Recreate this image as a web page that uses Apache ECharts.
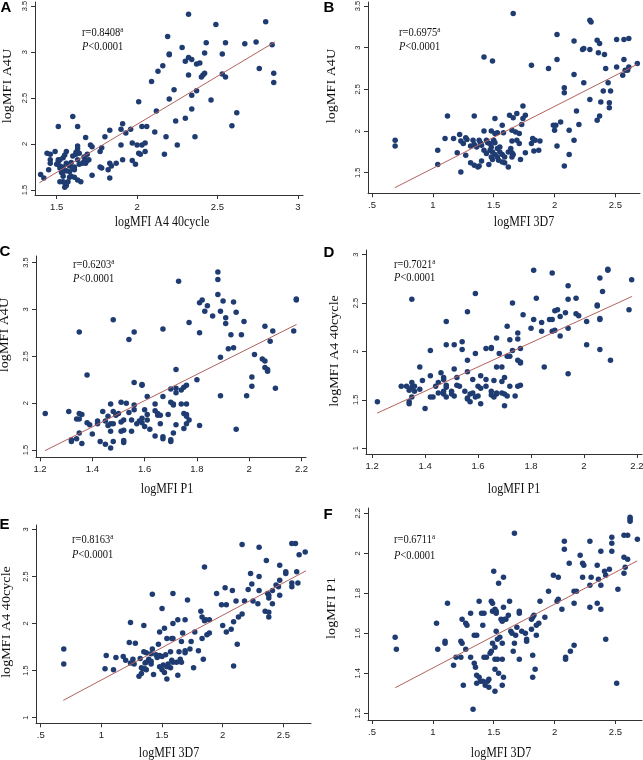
<!DOCTYPE html>
<html>
<head>
<meta charset="utf-8">
<script src="https://cdn.jsdelivr.net/npm/echarts@6/dist/echarts.min.js"></script>
<style>
  html, body { margin: 0; padding: 0; background: #fff; }
  #main { width: 643px; height: 760px; }
</style>
</head>
<body>
<div id="main"></div>
<script>
// A: logMFI A4 40cycle (x) vs logMFI A4U (y)
var pointsA = [[2.32,3.41],[2.80,3.33],[2.49,3.30],[2.19,3.17],[2.28,3.05],[2.20,2.98],[2.20,2.97],[2.32,2.94],[2.34,2.92],[2.30,2.90],[2.43,3.10],[2.55,3.10],[2.67,3.09],[2.74,3.11],[2.84,3.08],[2.42,2.99],[2.53,2.98],[2.16,2.85],[2.13,2.79],[2.09,2.68],[2.39,2.88],[2.37,2.87],[2.32,2.75],[2.40,2.73],[2.42,2.77],[2.41,2.75],[2.53,2.76],[2.55,2.73],[2.76,2.82],[2.85,2.77],[2.85,2.67],[2.23,2.59],[2.37,2.58],[2.34,2.53],[2.20,2.49],[2.46,2.48],[2.01,2.46],[2.34,2.38],[2.12,2.36],[2.62,2.34],[2.30,2.28],[2.24,2.25],[2.59,2.20],[1.91,2.22],[1.60,2.30],[1.51,2.19],[1.63,2.19],[1.96,2.16],[1.83,2.15],[2.03,2.19],[2.06,2.19],[1.90,2.16],[1.93,2.12],[2.11,2.13],[1.80,2.08],[1.68,2.07],[2.18,2.08],[2.36,2.08],[2.25,1.99],[1.97,2.01],[1.90,1.99],[2.00,1.99],[2.03,1.99],[2.05,2.01],[1.63,1.98],[1.63,1.95],[1.71,1.99],[1.72,1.97],[1.78,1.96],[2.01,1.90],[2.02,1.89],[2.05,1.92],[2.17,1.89],[1.62,1.91],[1.62,1.89],[1.64,1.90],[1.77,1.92],[1.69,1.89],[1.67,1.86],[1.68,1.83],[1.60,1.87],[1.56,1.92],[1.55,1.88],[1.54,1.85],[1.44,1.90],[1.46,1.89],[1.49,1.92],[1.46,1.83],[1.46,1.79],[1.51,1.83],[1.51,1.81],[1.52,1.83],[1.50,1.78],[1.52,1.76],[1.52,1.74],[1.54,1.75],[1.56,1.79],[1.58,1.76],[1.59,1.80],[1.61,1.72],[1.60,1.74],[1.63,1.83],[1.64,1.78],[1.66,1.79],[1.67,1.81],[1.68,1.79],[1.69,1.82],[1.70,1.83],[1.91,1.83],[1.97,1.82],[1.99,1.78],[1.87,1.79],[1.83,1.79],[1.84,1.76],[1.77,1.75],[1.78,1.74],[1.82,1.72],[1.72,1.66],[1.45,1.72],[1.40,1.67],[1.42,1.63],[1.53,1.69],[1.54,1.70],[1.56,1.71],[1.58,1.70],[1.54,1.65],[1.59,1.65],[1.61,1.64],[1.52,1.59],[1.54,1.59],[1.55,1.58],[1.56,1.55],[1.55,1.53],[1.57,1.59],[1.63,1.61],[1.65,1.59],[1.83,1.63],[1.58,1.64],[1.61,1.75]];
var fitA = [[1.392, 1.579], [2.856, 3.109]];
var ticksAx = [1.5, 2, 2.5, 3];
var ticksAy = [1.5, 2, 2.5, 3, 3.5];

// B: logMFI 3D7 vs logMFI A4U
var pointsB = [[1.66,3.41],[2.29,3.33],[2.30,3.31],[1.42,2.89],[1.49,2.84],[2.02,3.16],[2.16,3.08],[2.35,3.09],[2.37,3.05],[2.23,2.98],[2.24,2.99],[2.29,2.98],[2.36,2.94],[2.41,2.92],[2.51,3.10],[2.57,3.10],[2.61,3.11],[2.02,2.86],[2.57,2.86],[1.81,2.79],[2.68,2.81],[2.51,2.77],[2.61,2.77],[2.60,2.73],[2.58,2.73],[2.56,2.67],[1.95,2.75],[2.42,2.75],[2.16,2.68],[2.08,2.52],[2.08,2.46],[2.24,2.58],[2.44,2.58],[2.40,2.48],[2.46,2.48],[2.29,2.38],[2.38,2.35],[2.45,2.34],[2.45,2.28],[2.18,2.24],[1.74,2.30],[1.74,2.15],[1.76,2.19],[1.63,2.19],[1.66,2.16],[1.12,2.18],[1.34,2.18],[1.51,2.15],[1.69,2.21],[2.05,2.11],[2.01,2.07],[1.99,2.07],[2.00,2.01],[2.20,2.08],[2.37,2.18],[2.35,2.13],[2.12,2.01],[2.16,1.89],[2.02,1.82],[2.12,1.72],[2.08,1.58],[1.57,2.07],[1.73,2.08],[1.65,2.01],[1.42,2.00],[1.48,2.00],[1.51,1.97],[1.53,1.98],[1.58,1.98],[1.68,1.99],[1.71,1.97],[1.22,1.96],[1.10,1.91],[1.17,1.91],[1.27,1.92],[1.28,1.90],[1.23,1.88],[1.25,1.85],[1.33,1.89],[1.34,1.84],[1.38,1.89],[1.39,1.86],[1.31,1.82],[1.36,1.81],[1.40,1.83],[1.44,1.89],[1.45,1.86],[1.47,1.85],[1.48,1.81],[1.47,1.77],[1.49,1.75],[1.50,1.89],[1.51,1.86],[1.53,1.79],[1.55,1.81],[1.55,1.75],[1.51,1.72],[1.53,1.69],[1.57,1.72],[1.59,1.69],[1.48,1.69],[1.49,1.66],[1.54,1.65],[1.57,1.63],[1.59,1.62],[1.62,1.57],[1.62,1.75],[1.64,1.79],[1.65,1.74],[1.66,1.72],[1.65,1.69],[1.69,1.89],[1.71,1.85],[1.65,1.88],[1.72,1.66],[1.76,1.74],[1.81,1.85],[1.82,1.91],[1.84,1.89],[1.88,1.88],[1.83,1.76],[1.87,1.77],[1.04,1.77],[1.04,1.60],[1.20,1.74],[1.27,1.71],[1.31,1.62],[1.34,1.59],[1.37,1.57],[1.38,1.58],[1.40,1.64],[1.23,1.51],[1.46,1.60],[0.69,1.89],[0.69,1.82],[1.42,1.77],[1.44,1.73]];
var fitB = [[0.687, 1.32], [2.678, 2.80]];
var ticksBx = [0.5, 1, 1.5, 2, 2.5];
var ticksBy = [1.5, 2, 2.5, 3, 3.5];

// C: logMFI P1 vs logMFI A4U
var pointsC = [[1.88,3.40],[1.88,3.32],[1.73,3.30],[1.88,3.16],[1.90,3.09],[1.94,3.08],[1.81,3.07],[1.82,3.10],[1.84,3.04],[1.83,2.98],[1.89,2.98],[1.95,2.97],[1.86,2.93],[1.91,2.91],[1.91,2.85],[2.18,3.11],[2.18,3.10],[1.77,2.86],[1.98,2.87],[1.48,2.89],[1.81,2.75],[1.67,2.79],[1.35,2.76],[1.56,2.76],[1.54,2.68],[1.93,2.73],[1.97,2.73],[2.06,2.82],[2.09,2.77],[2.17,2.77],[2.08,2.66],[1.92,2.58],[1.94,2.59],[2.02,2.52],[1.89,2.49],[2.05,2.47],[2.06,2.45],[2.06,2.38],[2.07,2.36],[2.07,2.34],[1.72,2.36],[1.38,2.30],[2.01,2.28],[1.80,2.25],[1.56,2.22],[1.59,2.19],[1.59,2.20],[1.76,2.19],[1.75,2.17],[1.70,2.15],[1.72,2.16],[1.72,2.11],[2.01,2.18],[2.10,2.16],[1.74,2.14],[1.61,2.07],[1.67,2.07],[1.89,2.08],[1.99,2.08],[1.47,1.99],[1.51,2.01],[1.53,2.00],[1.56,1.98],[1.64,1.99],[1.70,2.01],[1.71,1.99],[1.71,1.98],[1.74,1.99],[1.76,1.99],[1.22,1.89],[1.31,1.91],[1.35,1.89],[1.35,1.83],[1.36,1.88],[1.34,1.83],[1.38,1.79],[1.39,1.77],[1.42,1.81],[1.42,1.78],[1.44,1.91],[1.45,1.81],[1.46,1.86],[1.46,1.76],[1.47,1.78],[1.48,1.78],[1.48,1.91],[1.49,1.87],[1.50,1.89],[1.51,1.80],[1.52,1.82],[1.54,1.90],[1.56,1.93],[1.55,1.82],[1.57,1.78],[1.58,1.81],[1.59,1.84],[1.59,1.79],[1.60,1.75],[1.61,1.88],[1.61,1.82],[1.62,1.72],[1.64,1.92],[1.65,1.89],[1.65,1.87],[1.66,1.87],[1.66,1.78],[1.60,1.93],[1.55,1.70],[1.52,1.71],[1.51,1.70],[1.69,1.88],[1.75,1.89],[1.76,1.88],[1.76,1.86],[1.77,1.82],[1.76,1.78],[1.75,1.73],[1.72,1.77],[1.71,1.68],[1.40,1.67],[1.35,1.68],[1.34,1.62],[1.32,1.61],[1.32,1.59],[1.36,1.57],[1.43,1.59],[1.45,1.56],[1.47,1.52],[1.48,1.59],[1.52,1.60],[1.52,1.58],[1.64,1.65],[1.67,1.64],[1.67,1.62],[1.70,1.61],[1.70,1.59],[1.81,1.76],[1.95,1.72],[1.47,1.70]];
var fitC = [[1.219, 1.493], [2.181, 2.84]];
var ticksCx = [1.2, 1.4, 1.6, 1.8, 2, 2.2];
var ticksCy = [1.5, 2, 2.5, 3, 3.5];

// D: logMFI P1 vs logMFI A4 40cycle
var pointsD = [[1.81,2.84],[1.88,2.81],[2.09,2.85],[2.09,2.84],[2.06,2.76],[2.18,2.74],[1.94,2.68],[2.07,2.62],[1.59,2.60],[1.82,2.55],[1.97,2.55],[1.94,2.54],[1.35,2.54],[1.73,2.50],[2.05,2.47],[2.05,2.48],[2.17,2.43],[1.89,2.42],[1.90,2.43],[1.93,2.40],[1.91,2.36],[1.97,2.39],[1.98,2.37],[1.56,2.41],[1.77,2.38],[1.81,2.33],[1.87,2.33],[1.88,2.33],[2.06,2.34],[2.06,2.33],[2.01,2.31],[1.84,2.30],[1.48,2.31],[1.94,2.24],[1.80,2.24],[1.84,2.21],[1.88,2.21],[1.89,2.22],[1.75,2.19],[1.71,2.26],[1.91,2.16],[1.67,2.14],[1.72,2.12],[1.75,2.13],[1.54,2.10],[1.48,2.07],[1.51,2.07],[2.01,2.07],[1.63,2.03],[1.65,2.03],[1.65,2.04],[1.76,2.03],[1.42,2.01],[1.54,2.02],[2.06,2.02],[1.59,1.98],[1.68,1.98],[1.73,2.01],[1.71,1.95],[1.72,1.95],[1.56,1.91],[1.75,1.91],[1.76,1.88],[1.76,1.89],[2.10,1.91],[1.38,1.84],[1.67,1.84],[1.69,1.84],[1.85,1.84],[1.51,1.82],[1.56,1.79],[1.46,1.78],[1.42,1.75],[1.47,1.73],[1.47,1.71],[1.52,1.73],[1.61,1.75],[1.63,1.71],[1.39,1.70],[1.58,1.71],[1.66,1.70],[1.70,1.73],[1.69,1.69],[1.94,1.77],[1.35,1.68],[1.31,1.64],[1.33,1.64],[1.34,1.60],[1.35,1.63],[1.36,1.64],[1.38,1.61],[1.36,1.59],[1.35,1.53],[1.34,1.48],[1.34,1.46],[1.44,1.64],[1.45,1.68],[1.48,1.65],[1.48,1.63],[1.47,1.59],[1.47,1.56],[1.48,1.53],[1.45,1.57],[1.42,1.53],[1.43,1.53],[1.50,1.59],[1.50,1.56],[1.51,1.54],[1.52,1.65],[1.53,1.64],[1.55,1.59],[1.56,1.52],[1.56,1.51],[1.57,1.56],[1.58,1.57],[1.59,1.53],[1.60,1.54],[1.60,1.64],[1.61,1.62],[1.57,1.48],[1.61,1.46],[1.63,1.64],[1.65,1.59],[1.65,1.55],[1.66,1.53],[1.67,1.57],[1.67,1.56],[1.69,1.57],[1.70,1.56],[1.71,1.54],[1.70,1.44],[1.72,1.64],[1.75,1.64],[1.76,1.65],[1.74,1.54],[1.40,1.41],[1.22,1.48]];
var fitD = [[1.219, 1.363], [2.181, 2.568]];
var ticksDx = [1.2, 1.4, 1.6, 1.8, 2, 2.2];
var ticksDy = [1, 1.5, 2, 2.5, 3];

// E: logMFI 3D7 vs logMFI A4 40cycle
var pointsE = [[2.16,2.84],[2.30,2.81],[2.57,2.85],[2.60,2.85],[2.68,2.76],[2.63,2.73],[1.85,2.60],[2.36,2.67],[2.47,2.62],[2.61,2.55],[2.52,2.55],[2.52,2.53],[2.23,2.53],[2.30,2.50],[2.47,2.46],[2.24,2.42],[2.44,2.41],[2.46,2.39],[2.57,2.43],[2.57,2.39],[2.62,2.43],[2.21,2.36],[2.30,2.35],[2.02,2.38],[2.08,2.35],[1.95,2.32],[2.37,2.32],[2.38,2.30],[2.38,2.27],[2.41,2.35],[2.47,2.30],[2.11,2.24],[2.18,2.24],[2.25,2.24],[2.29,2.21],[2.41,2.21],[1.42,2.31],[1.59,2.32],[1.71,2.25],[1.99,2.20],[2.03,2.20],[2.16,2.10],[2.35,2.13],[2.38,2.12],[2.38,2.07],[1.82,2.13],[1.83,2.07],[1.85,2.03],[1.86,2.04],[1.89,2.04],[2.13,2.07],[2.09,2.02],[1.50,2.16],[1.24,2.01],[1.35,1.98],[1.52,1.95],[1.59,2.00],[1.63,2.04],[1.69,2.04],[1.48,1.91],[1.67,1.90],[2.00,1.98],[2.03,1.91],[2.07,1.94],[1.77,1.91],[1.87,1.88],[1.89,1.90],[1.54,1.84],[1.58,1.84],[1.59,1.84],[1.83,1.84],[1.47,1.78],[1.66,1.81],[1.74,1.81],[1.23,1.80],[1.28,1.79],[2.12,1.78],[1.42,1.73],[1.73,1.73],[1.80,1.71],[1.35,1.70],[1.37,1.69],[1.41,1.68],[1.45,1.67],[1.46,1.64],[1.48,1.66],[1.50,1.65],[1.53,1.67],[1.57,1.70],[1.64,1.70],[1.69,1.71],[1.69,1.69],[1.84,1.62],[1.04,1.66],[1.12,1.64],[1.18,1.65],[1.20,1.61],[1.26,1.62],[1.32,1.63],[1.39,1.62],[1.41,1.60],[1.36,1.58],[1.37,1.59],[1.58,1.61],[1.59,1.59],[1.65,1.62],[1.66,1.59],[1.62,1.59],[1.24,1.58],[1.27,1.57],[1.33,1.53],[1.34,1.52],[1.36,1.52],[1.37,1.51],[1.41,1.57],[1.48,1.54],[1.50,1.51],[1.51,1.56],[1.54,1.54],[1.55,1.57],[1.57,1.53],[1.76,1.53],[0.69,1.73],[0.69,1.57],[1.03,1.52],[1.10,1.51],[1.31,1.44],[1.33,1.47],[1.43,1.46],[1.52,1.48],[1.54,1.41],[1.63,1.45],[2.09,1.55]];
var fitE = [[0.686, 1.185], [2.687, 2.56]];
var ticksEx = [0.5, 1, 1.5, 2, 2.5];
var ticksEy = [1, 1.5, 2, 2.5, 3];

// F: logMFI 3D7 vs logMFI P1
var pointsF = [[2.62,2.18],[2.62,2.17],[2.62,2.16],[1.67,2.10],[2.57,2.09],[2.60,2.09],[2.47,2.08],[2.47,2.05],[2.68,2.07],[2.08,2.06],[2.29,2.06],[2.08,2.02],[2.47,2.01],[2.38,2.01],[2.21,1.99],[2.57,1.98],[2.60,1.97],[2.12,1.95],[2.23,1.95],[2.24,1.94],[2.35,1.94],[2.45,1.92],[2.41,1.91],[2.58,1.93],[2.57,1.90],[1.50,1.91],[2.42,1.89],[1.99,1.89],[2.03,1.88],[1.58,1.88],[2.23,1.88],[2.30,1.88],[2.36,1.87],[2.38,1.84],[1.54,1.85],[2.29,1.84],[1.95,1.81],[2.52,1.82],[2.16,1.81],[2.18,1.81],[2.03,1.77],[2.02,1.76],[1.12,1.75],[1.38,1.76],[1.48,1.76],[1.49,1.75],[1.63,1.76],[1.88,1.76],[2.16,1.75],[2.35,1.75],[1.58,1.73],[2.29,1.73],[2.38,1.72],[2.06,1.72],[1.51,1.72],[1.52,1.71],[1.49,1.71],[1.52,1.70],[1.31,1.70],[1.40,1.70],[1.42,1.70],[1.71,1.70],[1.71,1.71],[1.62,1.69],[1.83,1.69],[1.82,1.68],[1.92,1.68],[1.56,1.67],[1.59,1.67],[1.60,1.67],[1.81,1.67],[1.24,1.67],[1.03,1.65],[1.27,1.65],[1.28,1.64],[1.57,1.66],[1.87,1.65],[1.85,1.64],[1.69,1.63],[1.41,1.64],[1.52,1.61],[1.64,1.61],[1.65,1.60],[1.73,1.61],[1.76,1.60],[1.81,1.62],[1.77,1.56],[1.77,1.57],[1.85,1.59],[1.68,1.59],[0.69,1.58],[1.34,1.59],[1.36,1.59],[1.53,1.57],[1.55,1.58],[1.49,1.55],[1.57,1.55],[1.10,1.56],[1.10,1.55],[1.23,1.56],[1.24,1.55],[1.67,1.55],[2.42,1.57],[1.66,1.51],[1.51,1.53],[1.48,1.51],[1.47,1.50],[1.27,1.52],[1.04,1.52],[0.70,1.52],[2.16,1.54],[2.13,1.51],[1.19,1.48],[1.23,1.48],[1.17,1.44],[1.31,1.48],[1.42,1.48],[1.44,1.48],[1.51,1.47],[1.53,1.47],[1.57,1.47],[1.71,1.47],[1.82,1.49],[2.09,1.48],[2.09,1.47],[1.34,1.45],[1.35,1.43],[1.51,1.42],[1.54,1.40],[1.84,1.42],[1.82,1.38],[1.36,1.39],[1.38,1.38],[1.39,1.36],[1.41,1.36],[1.45,1.36],[1.36,1.35],[1.46,1.37],[1.58,1.38],[1.25,1.34],[1.43,1.34],[1.46,1.33],[1.51,1.31],[1.57,1.34],[2.51,1.35],[1.33,1.22]];
var fitF = [[0.691, 1.328], [2.678, 1.962]];
var ticksFx = [0.5, 1, 1.5, 2, 2.5];
var ticksFy = [1.2, 1.4, 1.6, 1.8, 2, 2.2];

var stats = ['0.8408', '0.6975', '0.6203', '0.7021', '0.8163', '0.6711'];
var pText = '<0.0001';

var serif = '"Liberation Serif", "Times New Roman", serif';
var sans = '"Liberation Sans", Arial, sans-serif';
var dotColor = '#1f3c72';
var lineColor = '#b3625d';
var axisColor = '#333';
var textColor = '#111';
var stretch = 1.18; // the figure is a bit taller than wide

var panels = [
  { key: 'A', pts: pointsA, fit: fitA, xt: ticksAx, yt: ticksAy, xName: 'logMFI A4 40cycle', yName: 'logMFI A4U',
    grid: { left: 35, top: 2, width: 268, height: 193 }, xr: [1.365, 3.032], yr: [1.446, 3.544],
    letter: [6, 7.5], stat: [82, 33, 47], xTitle: [162, 222], yTitle: [8, 86] },
  { key: 'B', pts: pointsB, fit: fitB, xt: ticksBx, yt: ticksBy, xName: 'logMFI 3D7', yName: 'logMFI A4U',
    grid: { left: 368, top: 2, width: 272, height: 191.3 }, xr: [0.467, 2.702], yr: [1.253, 3.549],
    letter: [329, 7.5], stat: [399, 33, 47], xTitle: [524, 222], yTitle: [332, 86] },
  { key: 'C', pts: pointsC, fit: fitC, xt: ticksCx, yt: ticksCy, xName: 'logMFI P1', yName: 'logMFI A4U',
    grid: { left: 36, top: 256, width: 270, height: 201.3 }, xr: [1.1847, 2.217], yr: [1.422, 3.570],
    letter: [5, 252], stat: [73, 265, 278.5], xTitle: [167, 489], yTitle: [5, 335] },
  { key: 'D', pts: pointsD, fit: fitD, xt: ticksDx, yt: ticksDy, xName: 'logMFI P1', yName: 'logMFI A4 40cycle',
    grid: { left: 366, top: 250, width: 276, height: 204 }, xr: [1.177, 2.219], yr: [0.941, 3.048],
    letter: [329, 252.5], stat: [394, 265, 277.5], xTitle: [514, 489], yTitle: [335, 351] },
  { key: 'E', pts: pointsE, fit: fitE, xt: ticksEx, yt: ticksEy, xName: 'logMFI 3D7', yName: 'logMFI A4 40cycle',
    grid: { left: 36, top: 525, width: 275, height: 198.3 }, xr: [0.461, 2.728], yr: [0.941, 3.046],
    letter: [4.5, 524.5], stat: [72, 540, 555], xTitle: [169, 753], yTitle: [7, 622] },
  { key: 'F', pts: pointsF, fit: fitF, xt: ticksFx, yt: ticksFy, xName: 'logMFI 3D7', yName: 'logMFI P1',
    grid: { left: 368, top: 508, width: 274, height: 212 }, xr: [0.467, 2.718], yr: [1.1665, 2.2265],
    letter: [328, 515], stat: [394, 540, 556], xTitle: [501, 753], yTitle: [332, 608] }
];

function tickFmt(v) {
  var s = String(Math.round(v * 10) / 10);
  return s.charAt(0) === '0' ? s.slice(1) : s;
}

var grids = [], xAxes = [], yAxes = [], series = [], graphics = [];

panels.forEach(function (p, i) {
  grids.push({ left: p.grid.left, top: p.grid.top, width: p.grid.width, height: p.grid.height, outerBoundsMode: 'none' });
  xAxes.push({
    type: 'value', gridIndex: i, min: p.xr[0], max: p.xr[1],
    axisLine: { show: true, lineStyle: { color: axisColor, width: 1 } },
    axisTick: { show: true, length: 4, customValues: p.xt, lineStyle: { color: axisColor } },
    axisLabel: { customValues: p.xt, formatter: tickFmt, fontFamily: sans, fontSize: 9.5, color: '#222', margin: 7 },
    splitLine: { show: false }
  });
  yAxes.push({
    type: 'value', gridIndex: i, min: p.yr[0], max: p.yr[1],
    axisLine: { show: true, lineStyle: { color: axisColor, width: 1 } },
    axisTick: { show: true, length: 4, customValues: p.yt, lineStyle: { color: axisColor } },
    axisLabel: { customValues: p.yt, formatter: tickFmt, rotate: 90, fontFamily: sans, fontSize: 7.5, color: '#222', margin: 6.5 },
    splitLine: { show: false }
  });
  series.push({
    type: 'scatter', xAxisIndex: i, yAxisIndex: i, data: p.pts,
    symbolSize: 5.5, itemStyle: { color: dotColor, opacity: 1 }, z: 2
  });
  series.push({
    type: 'line', xAxisIndex: i, yAxisIndex: i, data: p.fit,
    symbol: 'none', lineStyle: { color: lineColor, width: 1 }, z: 3
  });

  graphics.push({
    type: 'text', x: p.letter[0], y: p.letter[1],
    style: { text: p.key, font: 'bold 15px ' + sans, fill: '#000', align: 'center', verticalAlign: 'middle' }
  });
  graphics.push({
    type: 'text', x: p.stat[0], y: p.stat[1], scaleY: stretch,
    style: {
      text: '{n|r=' + stats[i] + '}{s|a}', align: 'left', verticalAlign: 'middle',
      rich: {
        n: { fontFamily: serif, fontSize: 10.5, fill: textColor, lineHeight: 12 },
        s: { fontFamily: serif, fontSize: 7, fill: textColor, lineHeight: 8, verticalAlign: 'top' }
      }
    }
  });
  graphics.push({
    type: 'text', x: p.stat[0], y: p.stat[2], scaleY: stretch,
    style: {
      text: '{i|P}{n|' + pText + '}', align: 'left', verticalAlign: 'middle',
      rich: {
        i: { fontFamily: serif, fontSize: 10.5, fontStyle: 'italic', fill: textColor },
        n: { fontFamily: serif, fontSize: 10.5, fill: textColor }
      }
    }
  });
  graphics.push({
    type: 'text', x: p.xTitle[0], y: p.xTitle[1], scaleY: stretch,
    style: { text: p.xName, font: '12px ' + serif, fill: textColor, align: 'center', verticalAlign: 'middle' }
  });
  graphics.push({
    type: 'text', x: p.yTitle[0], y: p.yTitle[1], rotation: Math.PI / 2, scaleX: stretch,
    style: { text: p.yName, font: '12px ' + serif, fill: textColor, align: 'center', verticalAlign: 'middle' }
  });
});

var chart = echarts.init(document.getElementById('main'));
chart.setOption({
  animation: false,
  backgroundColor: '#fff',
  grid: grids,
  xAxis: xAxes,
  yAxis: yAxes,
  series: series,
  graphic: graphics
});
</script>
</body>
</html>
